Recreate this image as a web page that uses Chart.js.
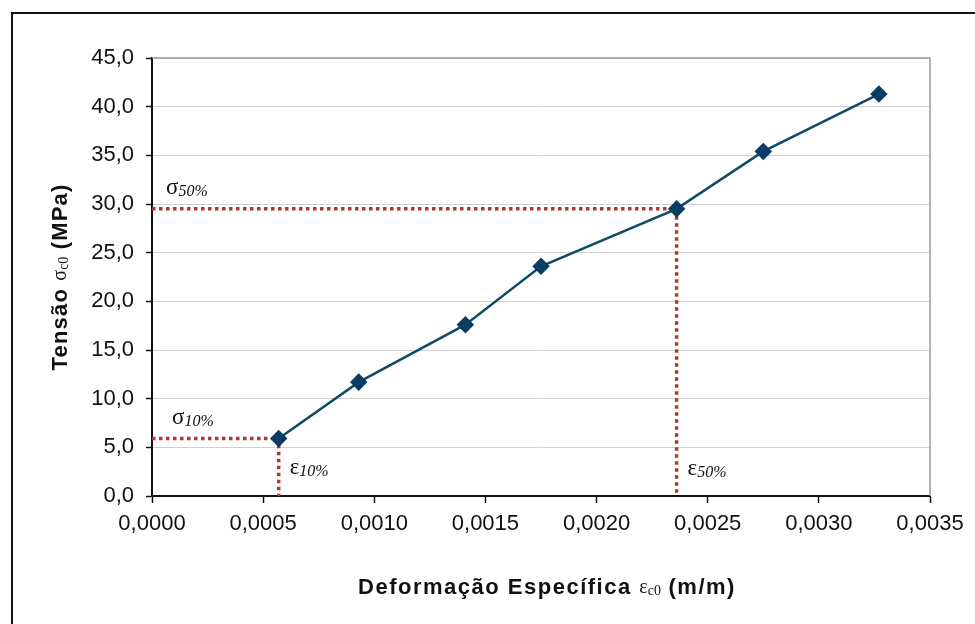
<!DOCTYPE html>
<html>
<head>
<meta charset="utf-8">
<script src="https://cdn.jsdelivr.net/npm/chart.js@4.4.1/dist/chart.umd.min.js"></script>
<style>
  html, body { margin: 0; padding: 0; background: #fff; }
  #wrap { width: 975px; height: 624px; }
</style>
</head>
<body>
<div id="wrap"><canvas id="c" width="975" height="624"></canvas></div>
<script>
// Specific strain (m/m) and stress (MPa) of the loading test
const strain = [0.00057, 0.00093, 0.00141, 0.00175, 0.00236, 0.00275, 0.00327];
const stress = [5.9, 11.7, 17.6, 23.6, 29.5, 35.4, 41.3];

// Axis ranges
const xRange = { min: 0, max: 0.0035, step: 0.0005 };
const yRange = { min: 0, max: 45, step: 5 };

// Reference points: 10% and 50% of the stress level
const idx10 = 0;
const idx50 = 4;

const sans = '"Liberation Sans", Arial, Helvetica, sans-serif';
const serif = '"Liberation Serif", "Times New Roman", serif';

const points = strain.map((x, i) => ({ x: x, y: stress[i] }));
const ref = (i) => [
  { x: 0, y: stress[i] },
  { x: strain[i], y: stress[i] },
  { x: strain[i], y: 0 }
];

// Draws a sequence of text runs with individual fonts, spacing and baseline shifts
function drawRuns(ctx, runs, x, y, align) {
  const setRun = r => {
    ctx.font = r.font;
    if ('letterSpacing' in ctx) ctx.letterSpacing = (r.ls || 0) + 'px';
  };
  let total = 0;
  runs.forEach(r => { setRun(r); total += ctx.measureText(r.text).width; });
  let cx = align === 'center' ? x - total / 2 : x;
  ctx.textBaseline = 'middle';
  ctx.textAlign = 'left';
  runs.forEach(r => {
    setRun(r);
    ctx.fillText(r.text, cx, y + (r.dy || 0));
    cx += ctx.measureText(r.text).width;
  });
  if ('letterSpacing' in ctx) ctx.letterSpacing = '0px';
}

const decorations = {
  id: 'decorations',
  beforeDraw(chart) {
    const ctx = chart.ctx;
    ctx.save();
    ctx.fillStyle = '#fff';
    ctx.fillRect(0, 0, chart.width, chart.height);
    ctx.restore();
  },
  afterDraw(chart) {
    const ctx = chart.ctx;
    const a = chart.chartArea;
    const xs = chart.scales.x, ys = chart.scales.y;
    ctx.save();

    // outer frame
    ctx.strokeStyle = '#111';
    ctx.lineWidth = 2;
    ctx.beginPath();
    ctx.moveTo(12, chart.height);
    ctx.lineTo(12, 13);
    ctx.lineTo(chart.width, 13);
    ctx.stroke();

    // plot area outline (top and right)
    ctx.strokeStyle = '#9a9a9a';
    ctx.lineWidth = 1.5;
    ctx.beginPath();
    ctx.moveTo(a.left, a.top);
    ctx.lineTo(a.right, a.top);
    ctx.lineTo(a.right, a.bottom);
    ctx.stroke();

    ctx.fillStyle = '#111';

    // x axis title
    drawRuns(ctx, [
      { text: 'Deformação Específica ', font: 'bold 22px ' + sans, ls: 1.5 },
      { text: 'ε', font: '20px ' + serif },
      { text: 'c0', font: '14px ' + serif, dy: 3 },
      { text: ' (m/m)', font: 'bold 22px ' + sans, ls: 1.5 }
    ], (a.left + a.right) / 2 + 6, 588, 'center');

    // y axis title (rotated)
    ctx.save();
    ctx.translate(61, (a.top + a.bottom) / 2);
    ctx.rotate(-Math.PI / 2);
    drawRuns(ctx, [
      { text: 'Tensão ', font: 'bold 22px ' + sans, ls: 1.2 },
      { text: 'σ', font: '20px ' + serif },
      { text: 'c0', font: '14px ' + serif, dy: 3 },
      { text: ' (MPa)', font: 'bold 22px ' + sans, ls: 1.2 }
    ], 0, 0, 'center');
    ctx.restore();

    // reference labels
    const s10y = ys.getPixelForValue(stress[idx10]);
    const s50y = ys.getPixelForValue(stress[idx50]);
    const e10x = xs.getPixelForValue(strain[idx10]);
    const e50x = xs.getPixelForValue(strain[idx50]);
    const lab = (sym, sub, x, y) => drawRuns(ctx, [
      { text: sym, font: '23px ' + serif },
      { text: sub, font: 'italic 16px ' + serif, dy: 4 }
    ], x, y, 'left');
    lab('σ', '50%', a.left + 14, s50y - 21);
    lab('σ', '10%', a.left + 20, s10y - 21);
    lab('ε', '10%', e10x + 11, s10y + 29);
    lab('ε', '50%', e50x + 11, ys.getPixelForValue(0) - 27);

    ctx.restore();
  }
};

new Chart(document.getElementById('c'), {
  type: 'scatter',
  data: {
    datasets: [
      {
        label: 'σc0 × εc0',
        data: points,
        showLine: true,
        borderColor: '#0f4a66',
        borderWidth: 2.5,
        pointStyle: 'rectRot',
        pointRadius: 7,
        pointBackgroundColor: '#0a3d63',
        pointBorderColor: '#0a3d63',
        order: 0
      },
      {
        label: 'ref 10%',
        data: ref(idx10),
        showLine: true,
        borderColor: '#b3352c',
        borderWidth: 3.5,
        borderDash: [3.5, 3.5],
        pointRadius: 0,
        order: 1
      },
      {
        label: 'ref 50%',
        data: ref(idx50),
        showLine: true,
        borderColor: '#b3352c',
        borderWidth: 3.5,
        borderDash: [3.5, 3.5],
        pointRadius: 0,
        order: 1
      }
    ]
  },
  options: {
    responsive: false,
    animation: false,
    layout: { padding: { left: 0, top: 58, right: 45, bottom: 0 } },
    plugins: { legend: { display: false }, tooltip: { enabled: false } },
    scales: {
      x: {
        type: 'linear',
        min: xRange.min,
        max: xRange.max,
        afterFit(s) { s.height = 128; },
        afterBuildTicks(s) {
          const t = [];
          for (let v = xRange.min; v <= xRange.max + 1e-9; v += xRange.step) t.push({ value: +v.toFixed(4) });
          s.ticks = t;
        },
        ticks: {
          color: '#111',
          font: { family: sans, size: 22 },
          padding: 8,
          maxRotation: 0,
          callback: v => v.toFixed(4).replace('.', ',')
        },
        grid: { drawOnChartArea: false, tickColor: '#111', tickLength: 7, tickWidth: 1.5 },
        border: { color: '#111', width: 2 }
      },
      y: {
        type: 'linear',
        min: yRange.min,
        max: yRange.max,
        afterFit(s) { s.width = 152; },
        ticks: {
          stepSize: yRange.step,
          color: '#111',
          font: { family: sans, size: 22 },
          padding: 12,
          callback: v => v.toFixed(1).replace('.', ',')
        },
        grid: { color: '#d2d2d2', lineWidth: 1, tickColor: '#111', tickLength: 6, tickWidth: 1.5 },
        border: { color: '#111', width: 2 }
      }
    }
  },
  plugins: [decorations]
});
</script>
</body>
</html>
